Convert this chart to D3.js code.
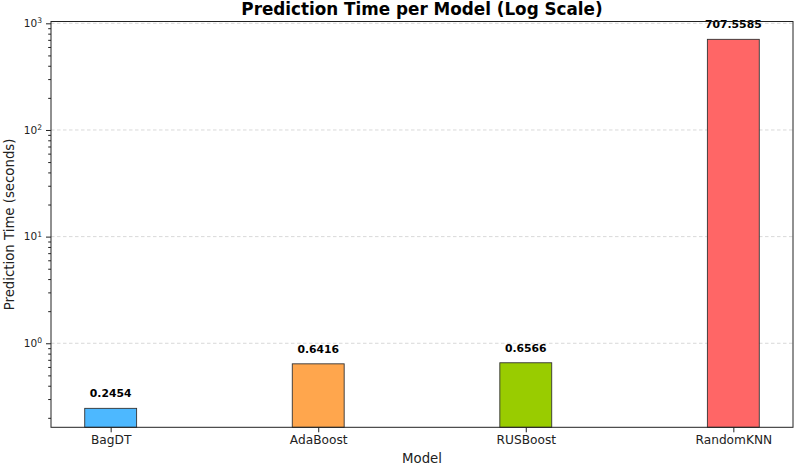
<!DOCTYPE html>
<html>
<head>
<meta charset="utf-8">
<script src="https://cdn.jsdelivr.net/npm/d3@7"></script>
<style>
  html, body { margin: 0; padding: 0; background: #fff; }
  svg { display: block; font-family: "DejaVu Sans", sans-serif; }
</style>
</head>
<body>
<svg id="chart" width="796" height="465"></svg>
<script>
const models = ["BagDT", "AdaBoost", "RUSBoost", "RandomKNN"];
const times = [0.2454, 0.6416, 0.6566, 707.5585];
const barColors = ["#4db8ff", "#ffa64d", "#99cc00", "#ff6666"];
const yMajorTicks = [1, 10, 100, 1000];
const yMinorTicks = [0.2,0.3,0.4,0.5,0.6,0.7,0.8,0.9,2,3,4,5,6,7,8,9,20,30,40,50,60,70,80,90,200,300,400,500,600,700,800,900];
const titleText = "Prediction Time per Model (Log Scale)";
const xLabel = "Model";
const yLabel = "Prediction Time (seconds)";

(function () {
const svg = d3.select("#chart");
const pL = 51, pR = 793, pT = 21.5, pB = 427.3;

const x = d3.scalePoint().domain(models).range([pL, pR]).padding(0.2875);
const barW = x.step() * 0.25;
const y = d3.scaleLog().domain([0.163, 1040]).range([pB, pT]);

// grid
svg.append("g").selectAll("line").data(yMajorTicks).join("line")
  .attr("x1", pL).attr("x2", pR)
  .attr("y1", d => y(d)).attr("y2", d => y(d))
  .attr("stroke", "#cfcfcf").attr("stroke-width", 0.8)
  .attr("stroke-dasharray", "3.5,2.5");

// bars
svg.append("g").selectAll("rect").data(models).join("rect")
  .attr("x", d => x(d) - barW / 2)
  .attr("width", barW)
  .attr("y", (d, i) => y(times[i]))
  .attr("height", (d, i) => pB - y(times[i]))
  .attr("fill", (d, i) => barColors[i])
  .attr("stroke", "#333").attr("stroke-width", 0.9);

// value labels
svg.append("g").selectAll("text").data(models).join("text")
  .attr("x", d => x(d))
  .attr("y", (d, i) => y(times[i]) - 11)
  .attr("text-anchor", "middle")
  .attr("font-size", "10.8px").attr("font-weight", "bold").attr("fill", "#000")
  .text((d, i) => times[i].toFixed(4));

// frame
svg.append("rect").attr("x", pL).attr("y", pT)
  .attr("width", pR - pL).attr("height", pB - pT)
  .attr("fill", "none").attr("stroke", "#222").attr("stroke-width", 1);

// x axis
const xAxis = svg.append("g").attr("transform", `translate(0,${pB})`)
  .call(d3.axisBottom(x).tickSize(5).tickPadding(3));
xAxis.select(".domain").remove();
xAxis.selectAll("line").attr("stroke", "#222");
xAxis.selectAll("text").attr("font-size", "12.2px").attr("fill", "#222")
  .attr("font-family", "DejaVu Sans");

// y axis major
const yAxis = svg.append("g").attr("transform", `translate(${pL},0)`)
  .call(d3.axisLeft(y).tickValues(yMajorTicks).tickSize(5).tickPadding(4).tickFormat(""));
yAxis.select(".domain").remove();
yAxis.selectAll("line").attr("stroke", "#222");
yAxis.selectAll(".tick text").each(function(d) {
  const t = d3.select(this);
  t.attr("font-size", "10.5px").attr("fill", "#222").attr("font-family", "DejaVu Sans");
  t.append("tspan").text("10");
  t.append("tspan").attr("font-size", "7.6px").attr("dy", "-0.5em").text(String(Math.round(Math.log10(d))));
});

// y axis minor
const yMinor = svg.append("g").attr("transform", `translate(${pL},0)`)
  .call(d3.axisLeft(y).tickValues(yMinorTicks).tickSize(2.8).tickFormat(""));
yMinor.select(".domain").remove();
yMinor.selectAll("line").attr("stroke", "#222");

// axis labels
svg.append("text").attr("x", (pL + pR) / 2).attr("y", 462.5)
  .attr("text-anchor", "middle").attr("font-size", "13.3px").attr("fill", "#222")
  .text(xLabel);
svg.append("text")
  .attr("transform", `translate(13.5,${(pT + pB) / 2}) rotate(-90)`)
  .attr("text-anchor", "middle").attr("font-size", "13.3px").attr("fill", "#222")
  .text(yLabel);

// title
svg.append("text").attr("x", (pL + pR) / 2).attr("y", 14.7)
  .attr("text-anchor", "middle").attr("font-size", "16.8px").attr("font-weight", "bold")
  .attr("fill", "#000").text(titleText);
})();
</script>
</body>
</html>
